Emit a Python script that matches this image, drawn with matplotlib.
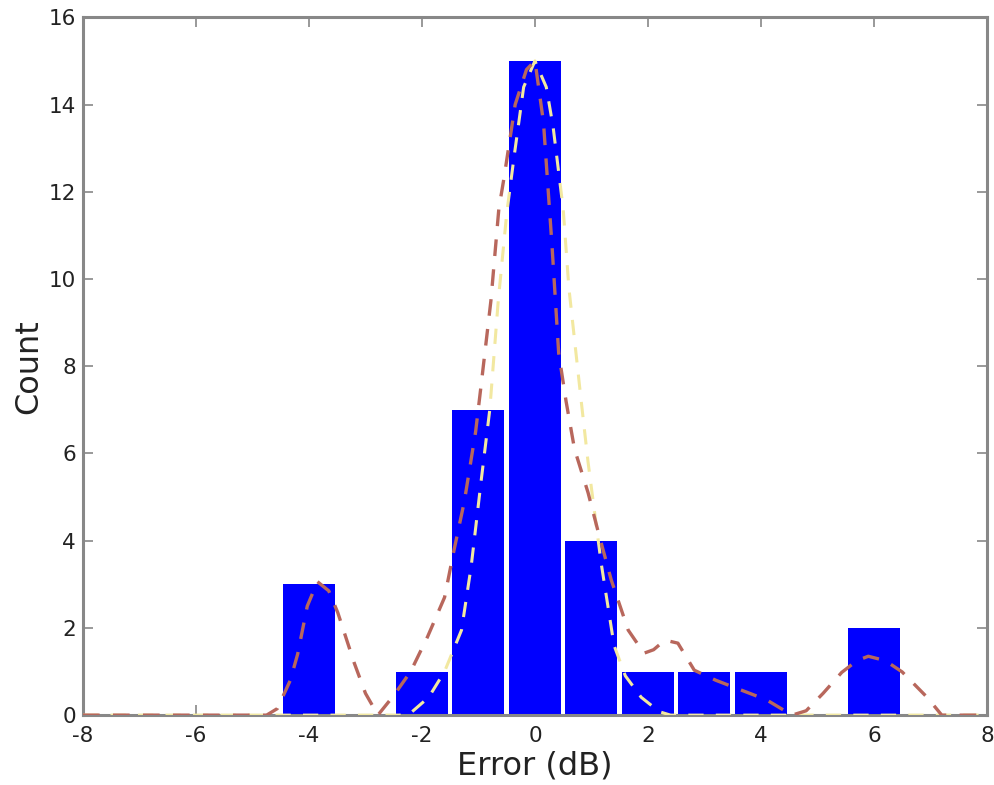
import matplotlib
matplotlib.use('Agg')
import matplotlib.pyplot as plt

plt.rcParams['axes.unicode_minus'] = False

# ── data ─────────────────────────────────────────────────────────────────────
bin_centers = [-4, -2, -1, 0, 1, 2, 3, 4, 6]
counts      = [3, 1, 7, 15, 4, 1, 1, 1, 2]

# dashed red density curve (x, count)
kde_x = [-8, -4.75, -4.56, -4.33, -4.2, -4.03, -3.85, -3.65, -3.49, -3.2,
         -3.0, -2.78, -2.5, -2.2, -1.9, -1.6, -1.43, -1.25, -1.05, -0.95,
         -0.78, -0.64, -0.55, -0.35, -0.15, 0.0, 0.15, 0.3, 0.42, 0.55,
         0.7, 0.94, 1.12, 1.35, 1.65, 1.93, 2.1, 2.3, 2.53, 2.82,
         3.2, 3.7, 4.1, 4.55, 4.8, 5.1, 5.43, 5.7, 5.9, 6.2,
         6.5, 6.94, 7.2, 8]
kde_y = [0, 0, 0.15, 0.8, 1.4, 2.5, 3.06, 2.85, 2.35, 1.2,
         0.5, 0.0, 0.45, 1.0, 1.8, 2.7, 3.8, 4.9, 6.5, 7.6,
         9.5, 11.6, 12.3, 14.0, 14.8, 15.0, 13.6, 10.8, 8.3, 7.2,
         6.1, 5.1, 4.2, 3.1, 1.95, 1.42, 1.5, 1.72, 1.65, 1.03,
         0.8, 0.55, 0.35, 0.0, 0.1, 0.5, 0.98, 1.25, 1.35, 1.25,
         0.99, 0.41, 0.0, 0]

# pale yellow dashed fit curve
fit_x = [-8, -2.4, -2.2, -1.88, -1.6, -1.3, -1.13, -0.95, -0.8, -0.65,
         -0.5, -0.37, -0.2, 0.0, 0.2, 0.32, 0.5, 0.6, 0.81, 0.94,
         1.17, 1.4, 1.6, 1.88, 2.2, 2.4, 8]
fit_y = [0, 0, 0.05, 0.41, 1.0, 1.95, 3.4, 5.4, 7.0, 9.5,
         11.5, 12.8, 14.4, 15.0, 14.4, 13.5, 11.6, 9.8, 7.3, 5.8,
         3.5, 1.6, 0.9, 0.41, 0.08, 0, 0]

xticks = [-8, -6, -4, -2, 0, 2, 4, 6, 8]
yticks = [0, 2, 4, 6, 8, 10, 12, 14, 16]

# ── plot ─────────────────────────────────────────────────────────────────────
fig = plt.figure(figsize=(9.95, 7.85), dpi=100)
ax = fig.add_axes([0.0834, 0.089, 0.9085, 0.889])

ax.bar(bin_centers, counts, width=0.92, color='#0000ff', edgecolor='none', zorder=2)
ax.plot(fit_x, fit_y, color='#f2e8a0', lw=2.2, dashes=(5, 4), zorder=3)
ax.plot(kde_x, kde_y, color='#b8675c', lw=2.4, dashes=(5, 4), zorder=4)

ax.set_xlim(-8, 8)
ax.set_ylim(0, 16)
ax.set_xticks(xticks)
ax.set_yticks(yticks)
ax.tick_params(direction='in', length=7, width=1.2, color='#888888',
               top=True, right=True, labelsize=15.5, labelcolor='#222222')
ax.tick_params(axis='x', pad=8)
ax.tick_params(axis='y', pad=5)

for s in ax.spines.values():
    s.set_color('#888888')
    s.set_linewidth(2.2)

ax.set_xlabel('Error (dB)', fontsize=23, color='#222222', labelpad=3)
ax.set_ylabel('Count', fontsize=23, color='#222222', labelpad=3)

fig.savefig('out.png', dpi=100)
